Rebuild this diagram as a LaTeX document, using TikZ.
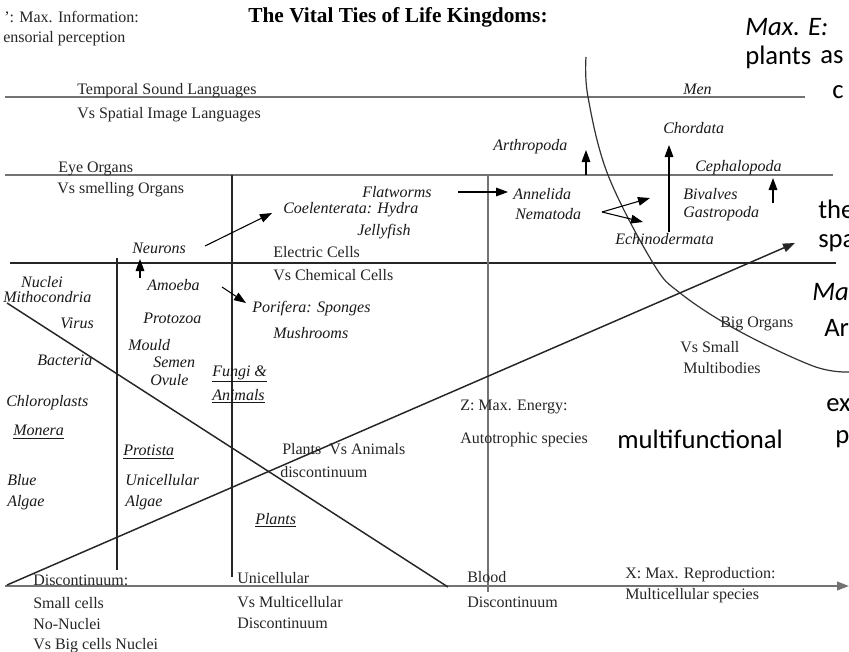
\documentclass[tikz,border=0pt]{standalone}
\usepackage{fontspec}
\setmainfont{Liberation Serif}
\newfontfamily\calfont{Carlito}
\usetikzlibrary{arrows.meta}
\begin{document}
\begin{tikzpicture}[x=0.75pt,y=-0.75pt,
  tn/.style={font=\fontsize{12}{14}\selectfont, text=black!85, inner sep=0pt, anchor=west},
  ti/.style={font=\fontsize{12}{14}\selectfont\itshape, text=black!90, inner sep=0pt, anchor=west},
  ttl/.style={font=\fontsize{16}{18}\selectfont\bfseries, inner sep=0pt},
  big/.style={font=\calfont\fontsize{20}{24}\selectfont, inner sep=0pt, anchor=west},
  bigi/.style={font=\calfont\fontsize{20}{24}\selectfont\itshape, inner sep=0pt, anchor=west},
  grayline/.style={draw=black!55, line width=1.5pt},
  darkline/.style={draw=black!85, line width=0.9pt},
  arr/.style={-{Triangle[length=9pt,width=6.5pt]}, line width=0.8pt},
]
\fill[white] (0,0) rectangle (849,651);
\useasboundingbox (0,0) rectangle (849,651);

% ---- coordinates for the frame lines
\coordinate (l1a) at (5,97);   \coordinate (l1b) at (805,97);
\coordinate (l2a) at (5,175);  \coordinate (l2b) at (833,175);
\coordinate (l3a) at (10,263); \coordinate (l3b) at (836,263);
\coordinate (l4a) at (5,586);  \coordinate (l4b) at (849,586);
\coordinate (v1a) at (117,258); \coordinate (v1b) at (117,570);
\coordinate (v2a) at (232,175); \coordinate (v2b) at (232,577);
\coordinate (v3a) at (488,175); \coordinate (v3b) at (488,592);
\coordinate (d1a) at (7,303);   \coordinate (d1b) at (448,587);
\coordinate (d2a) at (7,585);   \coordinate (d2b) at (795,243);

\draw[grayline] (l1a) -- (l1b);
\draw[grayline] (l2a) -- (l2b);
\draw[darkline] (l3a) -- (l3b);
\draw[grayline, -{Triangle[length=9pt,width=6.5pt]}] (l4a) -- (l4b);
\draw[darkline] (v1a) -- (v1b);
\draw[darkline] (v2a) -- (v2b);
\draw[grayline, line width=1.2pt] (v3a) -- (v3b);
\draw[darkline, line width=1.1pt] (d1a) -- (d1b);
\draw[darkline, line width=1.1pt, -{Triangle[length=9pt,width=6.5pt]}] (d2a) -- (d2b);

% ---- the curve
\draw[black!80, line width=0.9pt] plot[smooth, tension=0.6] coordinates
  {(586,57) (588,97) (608,175) (653,263) (680,293) (737,330) (813,366) (849,372)};

% ---- top left and title
\node[tn] (info) at (4,17) {’: Max. Information:};
\node[tn] (sens) at (3,39) {ensorial perception};
\node[ttl] (title) at (398,17) {The Vital Ties of Life Kingdoms:};

% ---- upright labels
\node[tn] (temp) at (77,91) {Temporal Sound Languages};
\node[tn] (spat) at (77,115) {Vs Spatial Image Languages};
\node[tn] (eye) at (58,169) {Eye Organs};
\node[tn] (smel) at (57,190) {Vs smelling Organs};
\node[tn] (elec) at (273,252) {Electric Cells};
\node[tn] (chem) at (273,275) {Vs Chemical Cells};
\node[tn] (pva) at (282,449) {Plants \ Vs Animals};
\node[tn] (disc1) at (280,472) {discontinuum};
\node[tn] (zmax) at (460,407) {Z: Max. Energy:};
\node[tn] (auto) at (460,440) {Autotrophic species};
\node[tn] (bigo) at (720,324) {Big Organs};
\node[tn] (vssm) at (680,347) {Vs Small};
\node[tn] (mult) at (683,368) {Multibodies};
\node[tn] (dis2) at (33,580) {Discontinuum:};
\node[tn] (smc) at (33,603) {Small cells};
\node[tn] (nonu) at (33,624) {No-Nuclei};
\node[tn] (vsbig) at (33,646) {Vs Big cells Nuclei};
\node[tn] (unic) at (237,578) {Unicellular};
\node[tn] (vsmu) at (237,602) {Vs Multicellular};
\node[tn] (dis3) at (237,623) {Discontinuum};
\node[tn] (blood) at (467,577) {Blood};
\node[tn] (dis4) at (467,602) {Discontinuum};
\node[tn] (xmax) at (625,575) {X: Max. Reproduction:};
\node[tn] (mcs) at (625,596) {Multicellular species};

% ---- italic labels
\node[ti] (men) at (683,89) {Men};
\node[ti] (chor) at (663,128) {Chordata};
\node[ti] (arth) at (493,147) {Arthropoda};
\node[ti] (ceph) at (695,168) {Cephalopoda};
\node[ti] (flat) at (362,192) {Flatworms};
\node[ti] (coel) at (283,210) {Coelenterata: Hydra};
\node[ti] (jell) at (357,232) {Jellyfish};
\node[ti] (anne) at (513,194) {Annelida};
\node[ti] (nema) at (515,214) {Nematoda};
\node[ti] (biva) at (683,194) {Bivalves};
\node[ti] (gast) at (683,214) {Gastropoda};
\node[ti] (echi) at (615,239) {Echinodermata};
\node[ti] (neur) at (132,248) {Neurons};
\node[ti] (amoe) at (147,285) {Amoeba};
\node[ti, anchor=center] (nucl) at (42,282) {Nuclei};
\node[ti] (mito) at (3,297) {Mithocondria};
\node[ti] (viru) at (60,323) {Virus};
\node[ti] (bact) at (37,360) {Bacteria};
\node[ti] (chlo) at (6,403) {Chloroplasts};
\node[ti] (mone) at (13,432) {\underline{Monera}};
\node[ti] (prot) at (143,318) {Protozoa};
\node[ti] (moul) at (128,345) {Mould};
\node[ti] (seme) at (153,362) {Semen};
\node[ti] (ovul) at (150,380) {Ovule};
\node[ti] (fung) at (212,374) {\underline{Fungi \&}};
\node[ti] (anim) at (212,396) {\underline{Animals}};
\node[ti] (pori) at (252,309) {Porifera: Sponges};
\node[ti] (mush) at (273,333) {Mushrooms};
\node[ti] (proa) at (123,452) {\underline{Protista}};
\node[ti] (unia) at (125,480) {Unicellular};
\node[ti] (alg2) at (125,503) {Algae};
\node[ti] (blue) at (7,480) {Blue};
\node[ti] (alg1) at (7,503) {Algae};
\node[ti] (plan) at (255,520) {\underline{Plants}};

% ---- large text at the right edge
\node[bigi] (maxe) at (745,27) {Max. E:};
\node[big] (plnt) at (745,57) {plants};
\node[big] (as) at (820,57) {as};
\node[big] (cc) at (832,92) {c};
\node[big] (the) at (818,209) {the};
\node[big] (spa) at (818,243) {spa};
\node[bigi] (ma) at (812,292) {Ma};
\node[big] (ar) at (824,328) {Ar};
\node[big] (ex) at (826,405) {ex};
\node[big] (mf) at (617,439) {multifunctional};
\node[big] (pp) at (835,439) {p};

% ---- arrows
\coordinate (neuA) at (205,246); \coordinate (coeA) at (272,213);
\coordinate (amoA) at (140,278); \coordinate (neuB) at (140,259);
\coordinate (amoB) at (222,287); \coordinate (porA) at (246,303);
\coordinate (flaA) at (458,192); \coordinate (annA) at (508,192);
\coordinate (artA) at (586,175); \coordinate (artB) at (586,150);
\coordinate (nemA) at (602,212); \coordinate (nemB) at (650,198); \coordinate (nemC) at (643,222);
\coordinate (choA) at (669,232); \coordinate (choB) at (669,145);
\coordinate (cepA) at (773,203); \coordinate (cepB) at (773,178);

\draw[arr] (neuA) -- (coeA);
\draw[arr] (amoA) -- (neuB);
\draw[arr] (amoB) -- (porA);
\draw[arr] (flaA) -- (annA);
\draw[arr] (artA) -- (artB);
\draw[arr] (nemA) -- (nemB);
\draw[arr] (nemA) -- (nemC);
\draw[arr] (choA) -- (choB);
\draw[arr] (cepA) -- (cepB);
\end{tikzpicture}
\end{document}
